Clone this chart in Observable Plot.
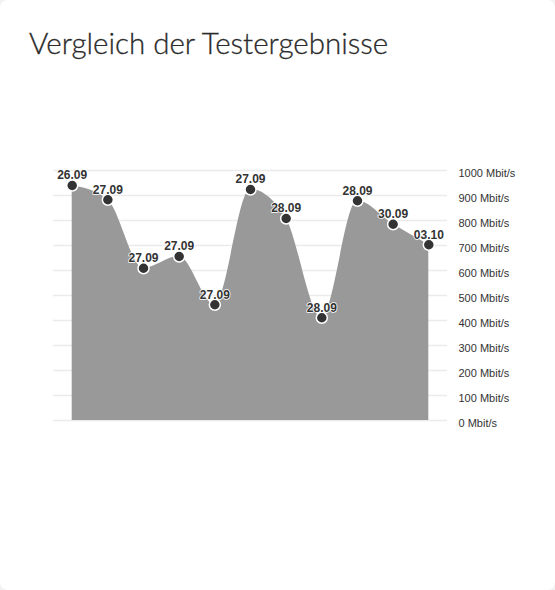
<!DOCTYPE html>
<html>
<head>
<meta charset="utf-8">
<script src="https://cdn.jsdelivr.net/npm/d3@7"></script>
<script src="https://cdn.jsdelivr.net/npm/@observablehq/plot@0.6"></script>
<style>
  html, body { margin: 0; padding: 0; background: #f2f2f2; }
  #card { position: relative; width: 555px; height: 590px; background: #fff; border-radius: 8px; overflow: hidden; }
  h1 { position: absolute; left: 29px; top: 25px; margin: 0; line-height: 1.2; font-family: Lato, "Open Sans", sans-serif; font-weight: 300; font-size: 29.5px; color: #2b2b2b; white-space: nowrap; -webkit-text-stroke: 0.3px #2b2b2b; }
  #chart { position: absolute; left: 0; top: 100px; }
</style>
</head>
<body>
<div id="card">
  <h1>Vergleich der Testergebnisse</h1>
  <div id="chart"></div>
</div>
<script>
const dates = ["26.09", "27.09", "27.09", "27.09", "27.09", "27.09", "28.09", "28.09", "28.09", "30.09", "03.10"];
const speeds = [940, 883, 609, 656, 463, 924, 808, 411, 879, 785, 703];
const yTicks = [0, 100, 200, 300, 400, 500, 600, 700, 800, 900, 1000];

const data = dates.map((d, i) => ({i, date: d, speed: speeds[i]}));

const chart = Plot.plot({
  width: 555,
  height: 340,
  marginLeft: 53,
  marginRight: 108,
  marginTop: 70,
  marginBottom: 20,
  style: {fontFamily: "'Liberation Sans', Arial, sans-serif", background: "transparent", overflow: "visible"},
  x: {domain: [0, dates.length - 1], insetLeft: 18.7, insetRight: 18.7, axis: null},
  y: {domain: [0, 1000], axis: null},
  marks: [
    Plot.ruleY(yTicks, {stroke: "#ebebeb", strokeWidth: 1.5}),
    Plot.areaY(data, {x: "i", y: "speed", fill: "#999999", curve: "monotone-x"}),
    Plot.axisY(yTicks, {anchor: "right", label: null, tickSize: 0, tickPadding: 11, dy: 3, tickFormat: d => d + " Mbit/s", fontSize: 11, fill: "#333", color: "#333"}),
    Plot.dot(data, {x: "i", y: "speed", r: 5.5, fill: "#333", stroke: "white", strokeWidth: 1.5}),
    Plot.text(data, {x: "i", y: "speed", text: "date", dy: -10, fontSize: 12, fontWeight: "bold", fill: "#333", stroke: "white", strokeWidth: 1.5, paintOrder: "stroke"})
  ]
});
document.getElementById("chart").appendChild(chart);
</script>
</body>
</html>
